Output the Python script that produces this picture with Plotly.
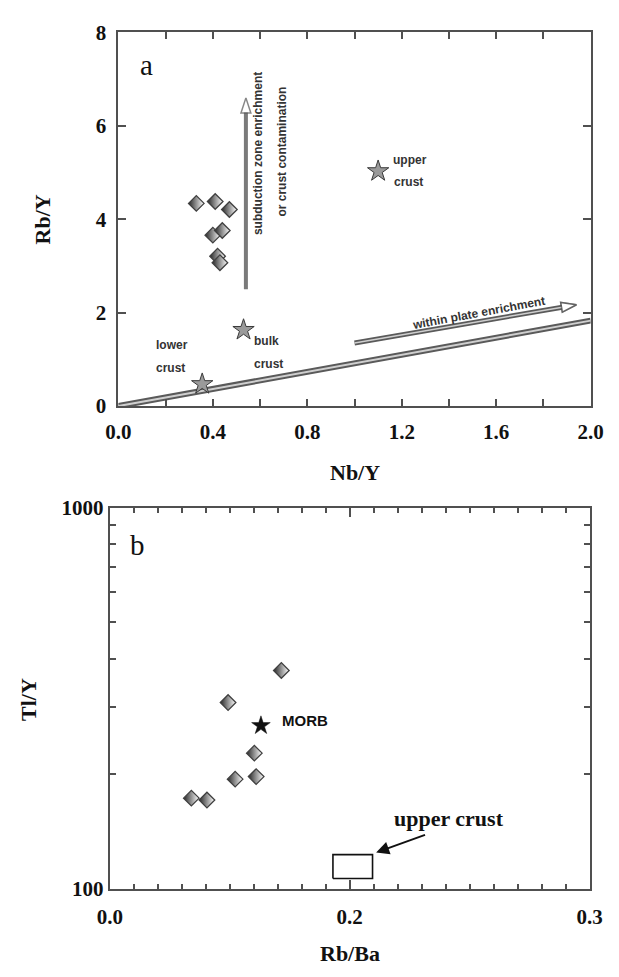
import math
import plotly.graph_objects as go

# ---------------- Panel a data ----------------
a_samples_nb_y = [0.33, 0.41, 0.47, 0.40, 0.44, 0.42, 0.43]
a_samples_rb_y = [4.34, 4.38, 4.21, 3.66, 3.76, 3.21, 3.07]

a_ref_names = ["upper crust", "bulk crust", "lower crust"]
a_ref_nb_y = [1.10, 0.53, 0.355]
a_ref_rb_y = [5.03, 1.63, 0.47]

band_nb_y = [0.0, 2.0]
band_rb_y = [0.0, 1.83]

subduction_nb_y = [0.54, 0.54]
subduction_rb_y = [2.5, 6.6]

plate_nb_y = [1.0, 1.94]
plate_rb_y = [1.35, 2.17]

a_xticks = [0.0, 0.2, 0.4, 0.6, 0.8, 1.0, 1.2, 1.4, 1.6, 1.8, 2.0]
a_xticklabels = ["0.0", "", "0.4", "", "0.8", "", "1.2", "", "1.6", "", "2.0"]
a_yticks = [0, 2, 4, 6, 8]

# ---------------- Panel b data ----------------
b_samples_rb_ba = [0.143, 0.0986, 0.1205, 0.1045, 0.122, 0.068, 0.081]
b_samples_tl_y = [374, 308, 227, 194, 197, 173, 171]

morb_rb_ba = [0.126]
morb_tl_y = [268]

uc_box_rb_ba = [0.186, 0.219]
uc_box_tl_y = [106.5, 123]

uc_arrow_tail = (0.264, 139)
uc_arrow_head = (0.222, 124.6)

b_xlabel_alias = {"0.4": "0.3"}   # the reference prints 0.3 at the right end
b_yticks = [100, 1000]
b_yminor = [200, 300, 400, 500, 600, 700, 800, 900]

W, H = 619, 977
SERIF = "Liberation Serif"
SANS = "Liberation Sans"
AX = "#505050"

fig = go.Figure()

diamond = dict(symbol="diamond", size=12, color="#262626",
               line=dict(color="#404040", width=1.3),
               gradient=dict(type="horizontal", color="white"))

# band line (panel a)
fig.add_trace(go.Scatter(x=band_nb_y, y=band_rb_y, mode="lines",
                         line=dict(color="#5a5a5a", width=6), xaxis="x", yaxis="y",
                         hoverinfo="skip"))
fig.add_trace(go.Scatter(x=band_nb_y, y=band_rb_y, mode="lines",
                         line=dict(color="#cfcfcf", width=2), xaxis="x", yaxis="y",
                         hoverinfo="skip"))

arrow_marker = dict(symbol="arrow", size=[0, 16], angleref="previous",
                    color="white", line=dict(color="#555555", width=1.5))

# within plate arrow
fig.add_trace(go.Scatter(x=plate_nb_y, y=plate_rb_y, mode="lines+markers",
                         line=dict(color="#5a5a5a", width=5), marker=arrow_marker,
                         xaxis="x", yaxis="y", hoverinfo="skip"))
fig.add_trace(go.Scatter(x=plate_nb_y, y=plate_rb_y, mode="lines+markers",
                         line=dict(color="#cfcfcf", width=1.5), marker=arrow_marker,
                         xaxis="x", yaxis="y", hoverinfo="skip"))

# subduction arrow
fig.add_trace(go.Scatter(x=subduction_nb_y, y=subduction_rb_y, mode="lines+markers",
                         line=dict(color="#7a7a7a", width=4), marker=arrow_marker,
                         xaxis="x", yaxis="y", hoverinfo="skip"))

# samples a
fig.add_trace(go.Scatter(x=a_samples_nb_y, y=a_samples_rb_y, mode="markers",
                         marker=diamond, xaxis="x", yaxis="y"))
# reference stars a
fig.add_trace(go.Scatter(x=a_ref_nb_y, y=a_ref_rb_y, mode="markers", text=a_ref_names,
                         marker=dict(symbol="star", size=16, color="#9a9a9a",
                                     line=dict(color="#3a3a3a", width=1)),
                         xaxis="x", yaxis="y"))

# panel b: upper crust box
fig.add_trace(go.Scatter(
    x=[uc_box_rb_ba[0], uc_box_rb_ba[1], uc_box_rb_ba[1], uc_box_rb_ba[0], uc_box_rb_ba[0]],
    y=[uc_box_tl_y[0], uc_box_tl_y[0], uc_box_tl_y[1], uc_box_tl_y[1], uc_box_tl_y[0]],
    mode="lines", line=dict(color="#111111", width=1.6), xaxis="x2", yaxis="y2",
    hoverinfo="skip"))
fig.add_trace(go.Scatter(x=b_samples_rb_ba, y=b_samples_tl_y, mode="markers",
                         marker=diamond, xaxis="x2", yaxis="y2"))
fig.add_trace(go.Scatter(x=morb_rb_ba, y=morb_tl_y, mode="markers",
                         marker=dict(symbol="star", size=14, color="#111111",
                                     line=dict(color="#111111", width=0.5)),
                         xaxis="x2", yaxis="y2"))
# invisible trace so the top tick axis of panel b is drawn
fig.add_trace(go.Scatter(x=morb_rb_ba, y=morb_tl_y, mode="markers",
                         marker=dict(size=0.1, opacity=0), xaxis="x3", yaxis="y2",
                         hoverinfo="skip"))

ann = []
small = dict(family=SANS, size=12, color="#333333", weight="bold")


def t(x, y, s, xanchor="left", angle=0, font=small, xref="x", yref="y"):
    ann.append(dict(x=x, y=y, text=s, showarrow=False, xanchor=xanchor,
                    yanchor="middle", textangle=angle, font=font, xref=xref, yref=yref))


t(1.155, 5.28, "upper")
t(1.158, 4.79, "crust")
t(0.565, 1.40, "bulk")
t(0.567, 0.91, "crust")
t(0.15, 1.31, "lower")
t(0.15, 0.82, "crust")
t(0.594, 5.41, "subduction zone enrichment", xanchor="center", angle=-90)
t(0.693, 5.45, "or crust contamination", xanchor="center", angle=-90)
t(1.524, 2.00, "within plate enrichment", xanchor="center", angle=-10.5)
t(0.12, 7.31, "a", xanchor="center", font=dict(family=SERIF, size=29, color="#111"))

# panel b texts (log axis -> log10 coords)
t(0.023, math.log10(796), "b", xanchor="center",
  font=dict(family=SERIF, size=29, color="#111"), xref="x2", yref="y2")
t(0.142, math.log10(276), "MORB",
  font=dict(family=SANS, size=15, color="#111", weight="bold"), xref="x2", yref="y2")
t(0.2825, math.log10(153), "upper crust", xanchor="center",
  font=dict(family=SERIF, size=22, color="#111", weight="bold"), xref="x2", yref="y2")
ann.append(dict(x=uc_arrow_head[0], y=math.log10(uc_arrow_head[1]),
                ax=uc_arrow_tail[0], ay=math.log10(uc_arrow_tail[1]),
                axref="x2", ayref="y2", xref="x2", yref="y2", text="",
                showarrow=True, arrowhead=2, arrowsize=1.3, arrowwidth=2,
                arrowcolor="#111"))

# axis titles as paper annotations
title_font = dict(family=SERIF, size=22, color="#111", weight="bold")
for tx, ty, s, ang in [(357, 472, "Nb/Y", 0), (31, 213, "Rb/Y", -90),
                       (352, 965, "Rb/Ba", 0), (16, 705, "Tl/Y", -90)]:
    ann.append(dict(x=tx / W, y=1 - ty / H, xref="paper", yref="paper", text=s,
                    showarrow=False, font=title_font, textangle=ang,
                    xanchor="center", yanchor="middle"))

tickfont = dict(family=SERIF, size=21, color="#111", weight="bold")
common = dict(showline=True, linecolor=AX, linewidth=2, mirror="ticks", ticks="inside",
              tickcolor=AX, tickwidth=1.5, showgrid=False, zeroline=False,
              tickfont=tickfont)
b_minor = dict(tickmode="linear", tick0=0, dtick=0.02, ticks="inside", ticklen=5,
               tickcolor=AX, tickwidth=1.5)

fig.update_layout(
    width=W, height=H, margin=dict(l=0, r=0, t=0, b=0),
    paper_bgcolor="white", plot_bgcolor="white", showlegend=False,
    annotations=ann,
    xaxis=dict(domain=[110 / W, 603 / W], range=[0, 2.0], anchor="y",
               tickmode="array", tickvals=a_xticks, ticktext=a_xticklabels,
               ticklen=7, ticklabelstandoff=6, **common),
    yaxis=dict(domain=[1 - 404 / H, 1 - 21 / H], range=[0, 8], anchor="x",
               tickmode="array", tickvals=a_yticks, ticklen=8,
               ticklabelstandoff=6, **common),
    xaxis2=dict(domain=[101 / W, 602 / W], range=[0, 0.4], anchor="y2",
                tickmode="linear", tick0=0, dtick=0.2, tickformat=".1f",
                labelalias=b_xlabel_alias, ticklabelstandoff=8,
                ticklen=9, minor=b_minor, **common),
    xaxis3=dict(overlaying="x2", side="top", anchor="y2", range=[0, 0.4],
                tickmode="linear", tick0=0, dtick=0.2, ticks="inside", ticklen=9,
                tickcolor=AX, tickwidth=1.5, showticklabels=False, showgrid=False,
                zeroline=False, showline=False, minor=b_minor),
    yaxis2=dict(domain=[1 - 899 / H, 1 - 508 / H], type="log", range=[2, 3],
                anchor="x2", tickmode="array", tickvals=b_yticks,
                ticktext=["100", "1000"], ticklen=6,
                minor=dict(tickmode="array", tickvals=b_yminor, ticks="inside",
                           ticklen=6, tickcolor=AX, tickwidth=1.5),
                **common),
)

fig.write_html("out.html")
